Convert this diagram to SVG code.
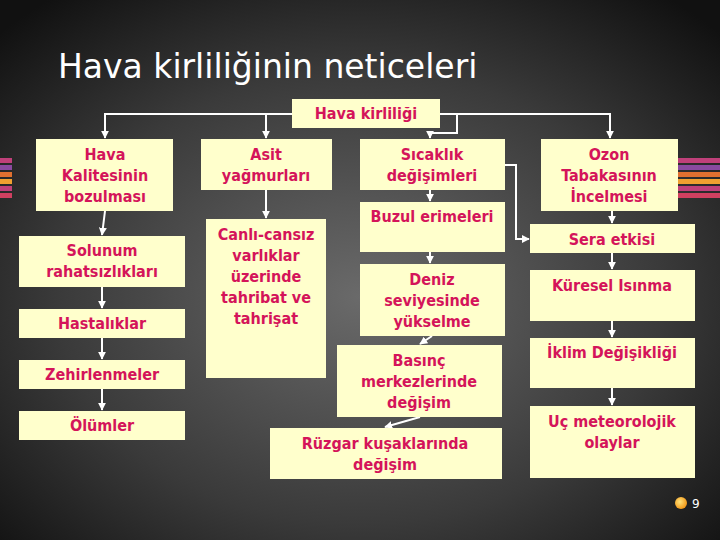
<svg xmlns="http://www.w3.org/2000/svg" width="720" height="540" viewBox="0 0 720 540">
<defs>
<radialGradient id="bg" cx="0.5" cy="0.55" r="0.7">
<stop offset="0" stop-color="#6a6a6a"/><stop offset="0.6" stop-color="#3a3a3a"/><stop offset="1" stop-color="#111"/>
</radialGradient>
<radialGradient id="sun" cx="0.4" cy="0.4" r="0.6"><stop offset="0" stop-color="#ffe27a"/><stop offset="1" stop-color="#f39a1a"/></radialGradient>
<marker id="ar" viewBox="0 0 10 10" refX="9" refY="5" markerWidth="4" markerHeight="4" orient="auto"><path d="M0,0L10,5L0,10z" fill="#fff"/></marker>
</defs>
<style>
.b{fill:#ffffcc}
.t{font-family:"DejaVu Sans Condensed","DejaVu Sans",sans-serif;font-weight:bold;font-size:16px;fill:#d4145a;text-anchor:middle}
.c{fill:none;stroke:#fff;stroke-width:2}
.a{marker-end:url(#ar)}
</style>
<rect width="720" height="540" fill="url(#bg)"/>
<g id="deco">
<rect x="0" y="158" width="12" height="5" fill="#c0407a"/><rect x="0" y="165" width="12" height="5" fill="#8a4aa0"/><rect x="0" y="172" width="12" height="5" fill="#e07030"/><rect x="0" y="179" width="12" height="5" fill="#f0a030"/><rect x="0" y="186" width="12" height="5" fill="#c0407a"/><rect x="0" y="193" width="12" height="5" fill="#d04060"/>
<rect x="676" y="158" width="44" height="5" fill="#c0407a"/><rect x="676" y="165" width="44" height="5" fill="#8a4aa0"/><rect x="676" y="172" width="44" height="5" fill="#e07030"/><rect x="676" y="179" width="44" height="5" fill="#f0a030"/><rect x="676" y="186" width="44" height="5" fill="#c0407a"/><rect x="676" y="193" width="44" height="5" fill="#d04060"/>
</g>
<text x="58" y="78" font-family="'DejaVu Sans',sans-serif" font-size="33" fill="#fff">Hava kirliliğinin neticeleri</text>
<g id="connectors">
<path class="c a" d="M292,114H105V138"/>
<path class="c a" d="M266,114V138"/>
<path class="c a" d="M440,114H610V138"/>
<path class="c a" d="M457,114V133H430V138"/>
<path class="c a" d="M105,211L102,235"/>
<path class="c a" d="M102,287V308"/>
<path class="c a" d="M102,338V359"/>
<path class="c a" d="M102,389V410"/>
<path class="c a" d="M266,190V218"/>
<path class="c a" d="M430,190V201"/>
<path class="c a" d="M430,252V263"/>
<path class="c a" d="M432,336L420,344"/>
<path class="c a" d="M420,417L385,427"/>
<path class="c a" d="M505,165H516V239H529"/>
<path class="c a" d="M612,211V223"/>
<path class="c a" d="M612,253V269"/>
<path class="c a" d="M612,321V337"/>
<path class="c a" d="M612,388V405"/>
</g>
<g id="n0"><rect class="b" x="292" y="99" width="148" height="29"/><text class="t" x="366" y="119">Hava kirliliği</text></g>
<g id="n1"><rect class="b" x="36" y="139" width="137" height="72"/><text class="t" x="105" y="160">Hava</text><text class="t" x="105" y="181">Kalitesinin</text><text class="t" x="105" y="202">bozulması</text></g>
<g id="n2"><rect class="b" x="19" y="236" width="166" height="51"/><text class="t" x="102" y="256">Solunum</text><text class="t" x="102" y="277">rahatsızlıkları</text></g>
<g id="n3"><rect class="b" x="19" y="309" width="166" height="29"/><text class="t" x="102" y="329">Hastalıklar</text></g>
<g id="n4"><rect class="b" x="19" y="360" width="166" height="29"/><text class="t" x="102" y="380">Zehirlenmeler</text></g>
<g id="n5"><rect class="b" x="19" y="411" width="166" height="29"/><text class="t" x="102" y="431">Ölümler</text></g>
<g id="n6"><rect class="b" x="201" y="139" width="131" height="51"/><text class="t" x="266" y="160">Asit</text><text class="t" x="266" y="181">yağmurları</text></g>
<g id="n7"><rect class="b" x="206" y="219" width="120" height="159"/><text class="t" x="266" y="240">Canlı-cansız</text><text class="t" x="266" y="261">varlıklar</text><text class="t" x="266" y="282">üzerinde</text><text class="t" x="266" y="303">tahribat ve</text><text class="t" x="266" y="324">tahrişat</text></g>
<g id="n8"><rect class="b" x="360" y="139" width="145" height="51"/><text class="t" x="432" y="160">Sıcaklık</text><text class="t" x="432" y="181">değişimleri</text></g>
<g id="n9"><rect class="b" x="360" y="202" width="145" height="50"/><text class="t" x="432" y="222">Buzul erimeleri</text></g>
<g id="n10"><rect class="b" x="360" y="264" width="145" height="72"/><text class="t" x="432" y="285">Deniz</text><text class="t" x="432" y="306">seviyesinde</text><text class="t" x="432" y="327">yükselme</text></g>
<g id="n11"><rect class="b" x="337" y="345" width="165" height="72"/><text class="t" x="419" y="366">Basınç</text><text class="t" x="419" y="387">merkezlerinde</text><text class="t" x="419" y="408">değişim</text></g>
<g id="n12"><rect class="b" x="270" y="428" width="232" height="51"/><text class="t" x="385" y="449">Rüzgar kuşaklarında</text><text class="t" x="385" y="470">değişim</text></g>
<g id="n13"><rect class="b" x="541" y="139" width="137" height="72"/><text class="t" x="609" y="160">Ozon</text><text class="t" x="609" y="181">Tabakasının</text><text class="t" x="609" y="202">İncelmesi</text></g>
<g id="n14"><rect class="b" x="530" y="224" width="165" height="29"/><text class="t" x="612" y="245">Sera etkisi</text></g>
<g id="n15"><rect class="b" x="530" y="270" width="165" height="51"/><text class="t" x="612" y="291">Küresel Isınma</text></g>
<g id="n16"><rect class="b" x="530" y="338" width="165" height="50"/><text class="t" x="612" y="358">İklim Değişikliği</text></g>
<g id="n17"><rect class="b" x="530" y="406" width="165" height="72"/><text class="t" x="612" y="427">Uç meteorolojik</text><text class="t" x="612" y="448">olaylar</text></g>
<circle cx="681" cy="503" r="6" fill="url(#sun)"/>
<text x="692" y="508" font-family="'DejaVu Sans',sans-serif" font-size="12" fill="#fff">9</text>
</svg>
